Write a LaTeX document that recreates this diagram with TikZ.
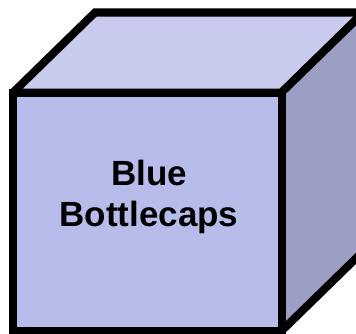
\documentclass[tikz,border=0pt]{standalone}
\usepackage{fontspec}
\setmainfont{Liberation Sans}
\definecolor{FrontFace}{RGB}{184,188,234}
\definecolor{TopFace}{RGB}{200,202,238}
\definecolor{SideFace}{RGB}{157,158,198}
\begin{document}
\begin{tikzpicture}[
  x=1pt, y=1pt,
  % ── faces of the box ─────────────────────────────────────────────────────
  face/.style={draw=black, line width=8pt, line join=miter, miter limit=2},
  label/.style={font=\fontsize{35}{41}\selectfont\bfseries, align=center}
]
\useasboundingbox (0,0) rectangle (356,333);
\clip (0,0) rectangle (356,333);

%% ── corners of the box ──
\coordinate (FTL) at (13,240.5);
\coordinate (FTR) at (281.5,240.5);
\coordinate (FBL) at (13,2);
\coordinate (FBR) at (281.5,2);
\coordinate (BTL) at (95,320.5);
\coordinate (BTR) at (363.5,320.5);
\coordinate (BBR) at (363.5,82);

%% ── faces ──
\draw[face, fill=TopFace]  (FTL) -- (BTL) -- (BTR) -- (FTR) -- cycle;
\draw[face, fill=SideFace] (FTR) -- (BTR) -- (BBR) -- (FBR) -- cycle;
\draw[face, fill=FrontFace] (FBL) rectangle (FTR);

%% ── text ──
\node[label] (caps) at (149,136.5) {Blue\\Bottlecaps};

\end{tikzpicture}
\end{document}
